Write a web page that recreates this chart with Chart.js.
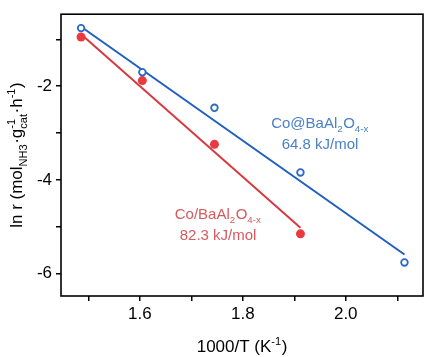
<!DOCTYPE html>
<html>
<head>
<meta charset="utf-8">
<script src="https://cdn.jsdelivr.net/npm/chart.js@4/dist/chart.umd.min.js"></script>
<style>
html,body{margin:0;padding:0;background:#fff;}
canvas{display:block;}
</style>
</head>
<body>
<canvas id="c" width="432" height="357"></canvas>
<script>
// ---- data ----
const invT = [1.486, 1.605, 1.745, 1.912, 2.114];          // 1000/T (K^-1)
const lnR_CoAtBa = [-0.76, -1.70, -2.46, -3.84, -5.76];     // Co@BaAl2O4-x (open circles)
const lnR_CoOnBa = [-0.95, -1.88, -3.24, -5.15];            // Co/BaAl2O4-x (filled circles)
const fitX_CoAtBa = [1.486, 2.114];
const fitY_CoAtBa = [-0.73, -5.59];
const fitX_CoOnBa = [1.486, 1.912];
const fitY_CoOnBa = [-0.89, -5.02];
const xTicks = [1.5, 1.6, 1.7, 1.8, 1.9, 2.0, 2.1];
const xTickLabels = ['', '1.6', '', '1.8', '', '2.0', ''];
const yTicks = [-6, -5, -4, -3, -2, -1];
const yTickLabels = ['-6', '', '-4', '', '-2', ''];
const labelCoAtBa = ['Co@BaAl', {sub:'2'}, 'O', {sub:'4-x'}];
const labelCoOnBa = ['Co/BaAl', {sub:'2'}, 'O', {sub:'4-x'}];
const eaCoAtBa = '64.8 kJ/mol';
const eaCoOnBa = '82.3 kJ/mol';
const annCoAtBa = {x: 1.95, y: -2.77};
const annCoOnBa = {x: 1.752, y: -4.72};

const BLUE = '#1f5fbf', BLUE_PT = '#2b69c2', BLUE_TXT = '#4a80c8';
const RED = '#d63a40', RED_PT = '#ea3a3f', RED_TXT = '#d65a5e';
const FONT = '"Liberation Sans", Arial, Helvetica, sans-serif';

function pts(xs, ys){ return ys.map((y,i)=>({x:xs[i], y:y})); }

// rich text: array of strings or {sub, sup}
function richWidth(ctx, parts, size){
  let w = 0;
  for (const p of parts){
    if (typeof p === 'string'){ ctx.font = size+'px '+FONT; w += ctx.measureText(p).width; }
    else {
      ctx.font = (size*0.65)+'px '+FONT;
      const a = p.sub ? ctx.measureText(p.sub).width : 0;
      const b = p.sup ? ctx.measureText(p.sup).width : 0;
      w += Math.max(a,b) + 0.5;
    }
  }
  return w;
}
function drawRich(ctx, parts, cx, cy, size, color){
  const w = richWidth(ctx, parts, size);
  let x = cx - w/2;
  ctx.fillStyle = color;
  ctx.textBaseline = 'alphabetic';
  ctx.textAlign = 'left';
  const base = cy + size*0.36;
  for (const p of parts){
    if (typeof p === 'string'){
      ctx.font = size+'px '+FONT; ctx.fillText(p, x, base); x += ctx.measureText(p).width;
    } else {
      ctx.font = (size*0.65)+'px '+FONT;
      let a=0,b=0;
      if (p.sub){ ctx.fillText(p.sub, x, base + size*0.28); a = ctx.measureText(p.sub).width; }
      if (p.sup){ ctx.fillText(p.sup, x, base - size*0.42); b = ctx.measureText(p.sup).width; }
      x += Math.max(a,b) + 0.5;
    }
  }
}

const decor = {
  id: 'decor',
  afterDraw(chart){
    const ctx = chart.ctx, ca = chart.chartArea;
    const xs = chart.scales.x, ys = chart.scales.y;
    ctx.save();
    // frame
    ctx.strokeStyle = '#000'; ctx.lineWidth = 1.6;
    ctx.strokeRect(ca.left, ca.top, ca.right-ca.left, ca.bottom-ca.top);
    // x title
    drawRich(ctx, ['1000/T (K', {sup:'-1'}, ')'], (ca.left+ca.right)/2, 346, 17, '#000');
    // y title (rotated)
    ctx.save();
    ctx.translate(16, (ca.top+ca.bottom)/2);
    ctx.rotate(-Math.PI/2);
    drawRich(ctx, ['ln r (mol', {sub:'NH3'}, '·g', {sub:'cat', sup:'-1'}, '·h', {sup:'-1'}, ')'], 0, 0, 17, '#000');
    ctx.restore();
    // annotations
    let px = xs.getPixelForValue(annCoAtBa.x), py = ys.getPixelForValue(annCoAtBa.y);
    drawRich(ctx, labelCoAtBa, px, py, 15, BLUE_TXT);
    drawRich(ctx, [eaCoAtBa], px, py+21, 15, BLUE_TXT);
    px = xs.getPixelForValue(annCoOnBa.x); py = ys.getPixelForValue(annCoOnBa.y);
    drawRich(ctx, labelCoOnBa, px, py, 15, RED_TXT);
    drawRich(ctx, [eaCoOnBa], px, py+21, 15, RED_TXT);
    ctx.restore();
  }
};

new Chart(document.getElementById('c'), {
  type: 'scatter',
  data: {
    datasets: [
      { data: pts(invT, lnR_CoAtBa), showLine:false, pointStyle:'circle', pointRadius:3.3,
        pointBorderWidth:1.8, pointBorderColor:BLUE_PT, pointBackgroundColor:'#fff', order:0 },
      { data: pts(invT, lnR_CoOnBa), showLine:false, pointStyle:'circle', pointRadius:4.5,
        pointBorderWidth:0, pointBorderColor:RED_PT, pointBackgroundColor:RED_PT, order:0 },
      { data: pts(fitX_CoAtBa, fitY_CoAtBa), showLine:true, pointRadius:0, borderColor:BLUE, borderWidth:2, order:1 },
      { data: pts(fitX_CoOnBa, fitY_CoOnBa), showLine:true, pointRadius:0, borderColor:RED, borderWidth:2, order:1 }
    ]
  },
  options: {
    responsive:false, animation:false, devicePixelRatio:1,
    layout:{ padding:{ top:5, right:9, left:0, bottom:0 } },
    plugins:{ legend:{display:false}, tooltip:{enabled:false} },
    scales:{
      x:{ type:'linear', min:1.447, max:2.15,
        grid:{ drawOnChartArea:false, drawTicks:true, tickLength:5, color:'#000', lineWidth:1.5 },
        border:{ display:false },
        afterBuildTicks(s){ s.ticks = xTicks.map(v=>({value:v})); },
        afterFit(s){ s.height = 61; },
        ticks:{ autoSkip:false, maxRotation:0, color:'#000', padding:3, font:{family:FONT, size:17},
          callback(v){ const i = xTicks.findIndex(t=>Math.abs(t-v)<1e-6); return i>=0 ? xTickLabels[i] : ''; } }
      },
      y:{ type:'linear', min:-6.476, max:-0.463,
        grid:{ drawOnChartArea:false, drawTicks:true, tickLength:5, color:'#000', lineWidth:1.5 },
        border:{ display:false },
        afterBuildTicks(s){ s.ticks = yTicks.map(v=>({value:v})); },
        afterFit(s){ s.width = 61; },
        ticks:{ autoSkip:false, color:'#000', padding:4, font:{family:FONT, size:17},
          callback(v){ const i = yTicks.findIndex(t=>Math.abs(t-v)<1e-6); return i>=0 ? yTickLabels[i] : ''; } }
      }
    }
  },
  plugins:[decor]
});
</script>
</body>
</html>
